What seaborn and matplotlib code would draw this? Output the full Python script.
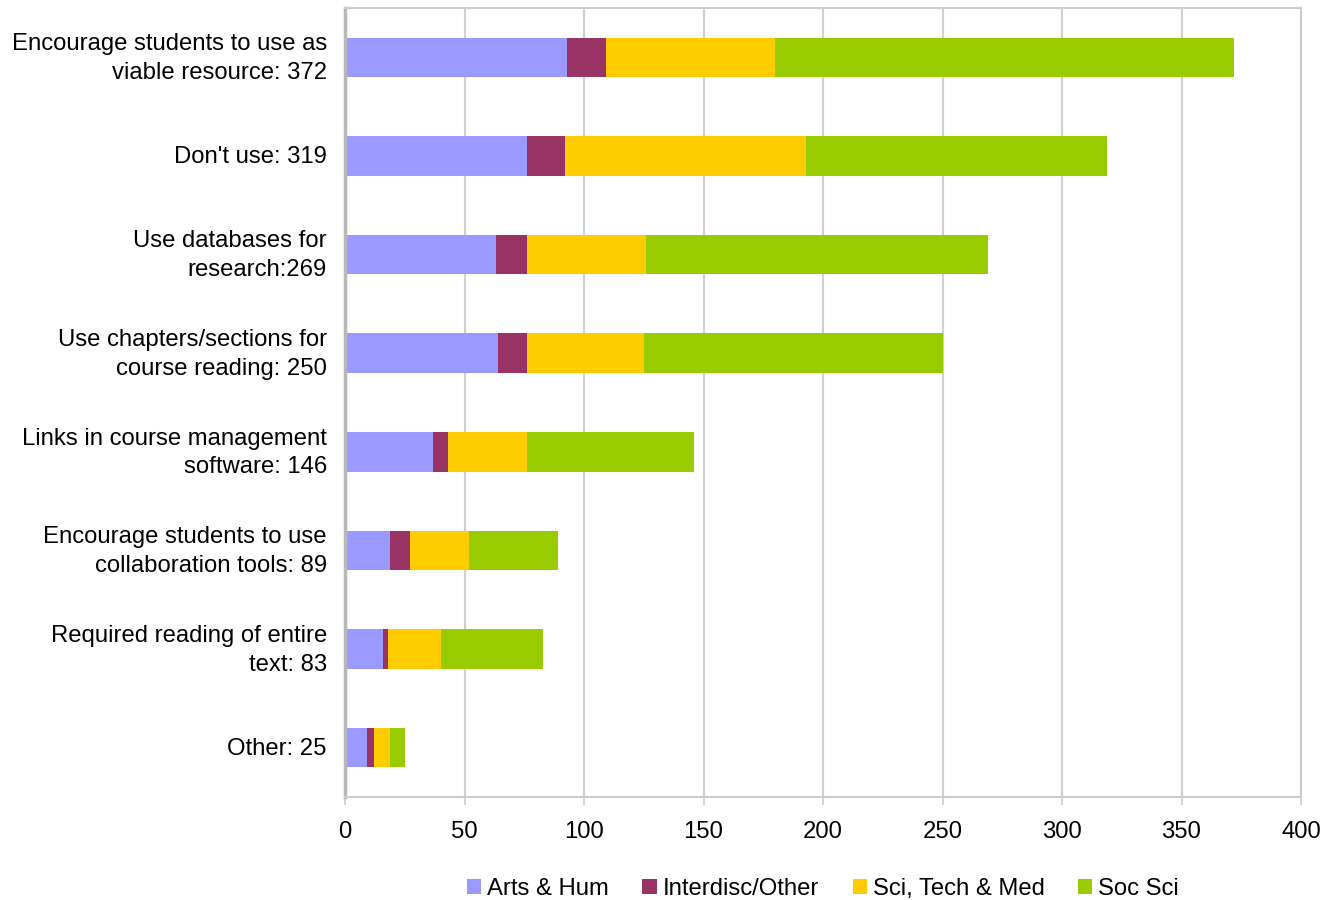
import matplotlib
matplotlib.use("Agg")
import matplotlib.pyplot as plt
import matplotlib.transforms as mtransforms
import seaborn as sns
import numpy as np
import pandas as pd
from matplotlib.patches import Patch

# Survey responses by discipline
categories = [
    "Encourage students to use as\nviable resource: 372",
    "Don't use: 319",
    "Use databases for\nresearch:269",
    "Use chapters/sections for\ncourse reading: 250",
    "Links in course management\nsoftware: 146",
    "Encourage students to use\ncollaboration tools: 89",
    "Required reading of entire\ntext: 83",
    "Other: 25",
]
series_names = ["Arts & Hum", "Interdisc/Other", "Sci, Tech & Med", "Soc Sci"]
arts_hum = [93, 76, 63, 64, 37, 19, 16, 9]
interdisc = [16, 16, 13, 12, 6, 8, 2, 3]
sci_tech_med = [71, 101, 50, 49, 33, 25, 22, 7]
soc_sci = [192, 126, 143, 125, 70, 37, 43, 6]
x_ticks = [0, 50, 100, 150, 200, 250, 300, 350, 400]

colors = ["#9999FF", "#993366", "#FFCC00", "#99CC00"]

sns.set_theme(style="white")
plt.rcParams["font.family"] = ["Liberation Sans", "DejaVu Sans"]
plt.rcParams["text.color"] = "black"

FS = 17.2

values = np.array([arts_hum, interdisc, sci_tech_med, soc_sci], dtype=float)
cumulative = np.cumsum(values, axis=0)

fig = plt.figure(figsize=(13.3, 9), dpi=100)
ax = fig.add_axes([345 / 1330, 1 - 797 / 900, (1301 - 345) / 1330, (797 - 8) / 900])

# Stacked bars: draw cumulative totals from the outermost segment inward
for i in range(len(series_names) - 1, -1, -1):
    df = pd.DataFrame({"category": categories, "value": cumulative[i]})
    sns.barplot(data=df, x="value", y="category", color=colors[i],
                orient="h", width=0.4, saturation=1, ax=ax, zorder=3,
                linewidth=0)

ax.set_xlim(0, 400)
ax.set_ylim(len(categories) - 0.5, -0.5)
ax.set_xticks(x_ticks)
ax.set_xticklabels([str(t) for t in x_ticks])
ax.set_xlabel("")
ax.set_ylabel("")

ax.grid(axis="x", color="#d0d0d0", linewidth=1.5, zorder=0)
ax.grid(axis="y", visible=False)

for side in ["top", "right", "bottom"]:
    ax.spines[side].set_color("#cccccc")
    ax.spines[side].set_linewidth(1.5)
ax.spines["left"].set_color("#b8b8b8")
ax.spines["left"].set_linewidth(2.5)
for s in ax.spines.values():
    s.set_zorder(4)

ax.tick_params(axis="x", length=6, width=1.2, color="#cccccc",
               labelsize=FS, labelcolor="black", pad=11, direction="out",
               bottom=True)
ax.tick_params(axis="y", length=0, labelsize=FS, labelcolor="black", pad=13)
for lbl in ax.get_yticklabels():
    lbl.set_multialignment("right")
    lbl.set_linespacing(1.4)
    lbl.set_verticalalignment("center")
    lbl.set_transform(lbl.get_transform() +
                      mtransforms.ScaledTranslation(0, -0.8 / 72, fig.dpi_scale_trans))

handles = [Patch(facecolor=c, edgecolor="none") for c in colors]
leg = ax.legend(handles, series_names, loc="center", bbox_to_anchor=(0.5, -0.116),
                ncol=4, frameon=False, fontsize=FS, handlelength=0.6,
                handleheight=0.6, handletextpad=0.25, columnspacing=1.4)
for t in leg.get_texts():
    t.set_color("black")

fig.savefig("out.png", dpi=100)
